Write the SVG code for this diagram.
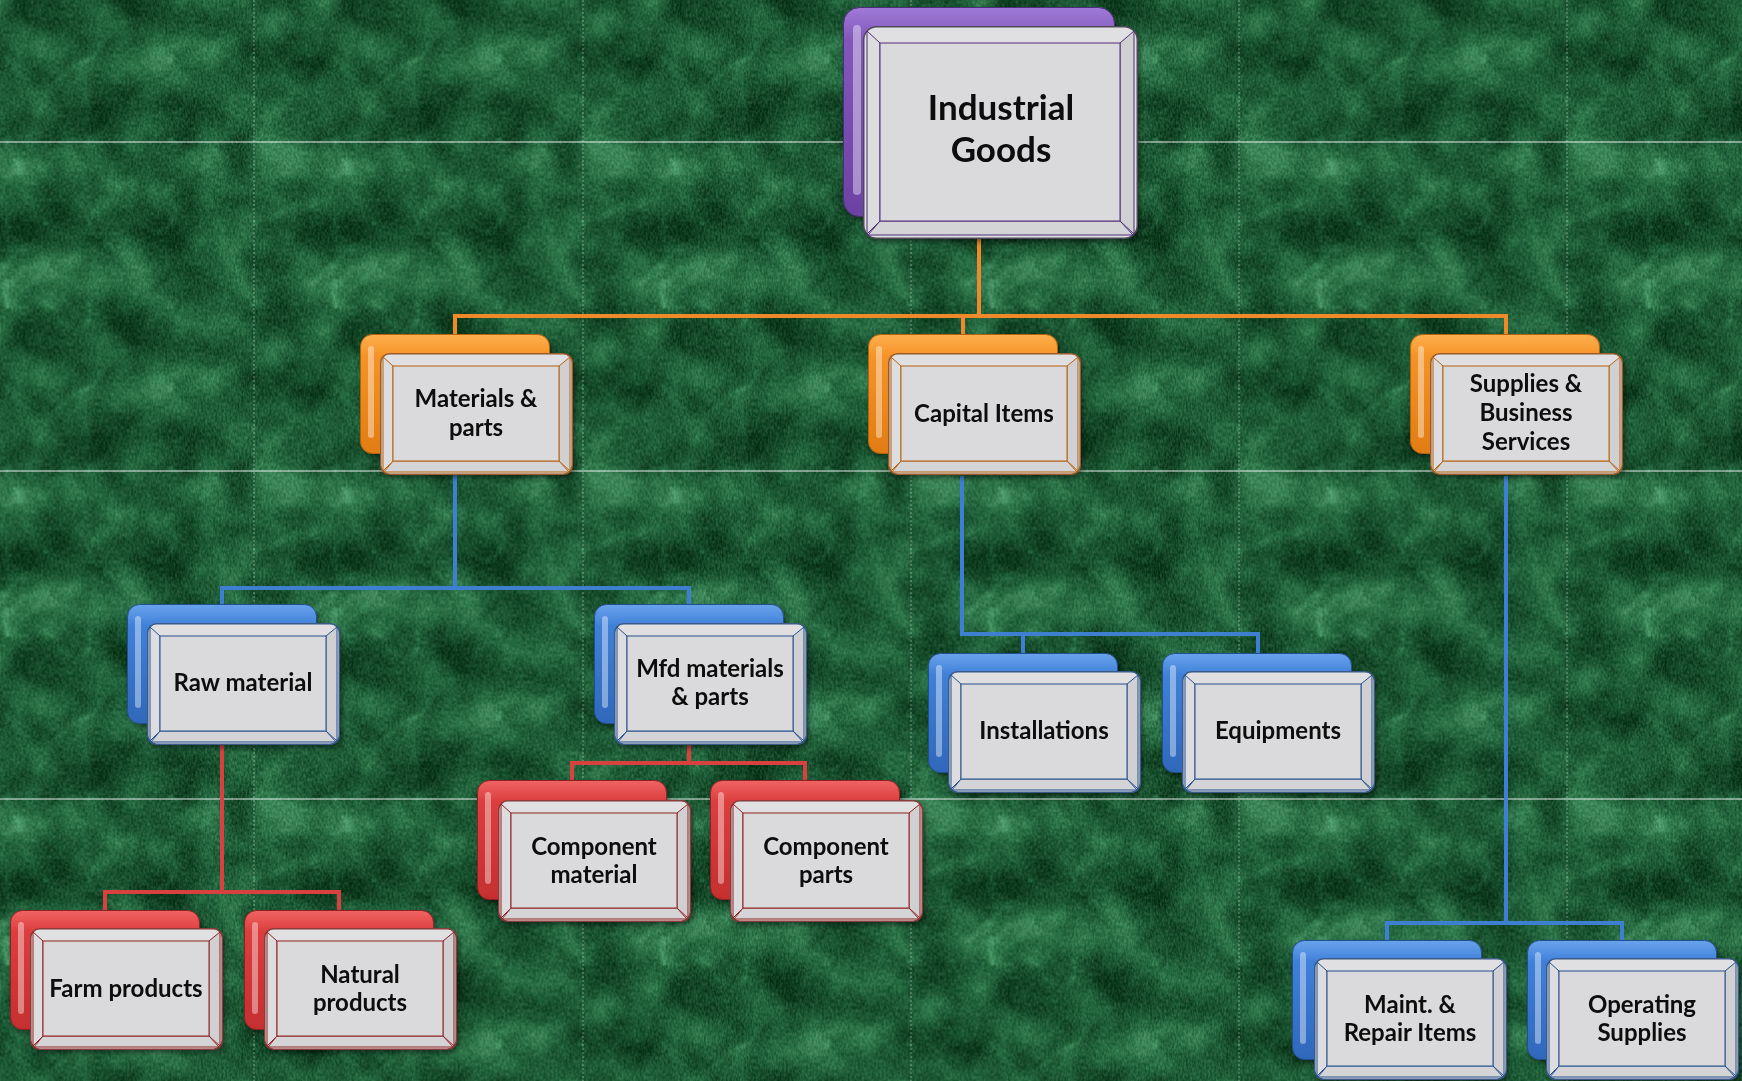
<svg xmlns="http://www.w3.org/2000/svg" width="1742" height="1081" viewBox="0 0 1742 1081">
<style>
.t{font-family:Lato,"Open Sans","Liberation Sans",sans-serif;font-weight:700;font-size:24px;text-anchor:middle;fill:#0b0b0b}
.tl{font-size:35px}
.cn{fill:none;stroke-width:4;stroke-linejoin:miter}
.co{stroke:#f0892a}
.cb{stroke:#3f7fd2}
.cr{stroke:#d8413f}
.gh{stroke:#ffffff;stroke-opacity:0.6;stroke-width:1.5}
.gv{stroke:#ffffff;stroke-opacity:0.4;stroke-width:1;stroke-dasharray:2 2}
.o{fill:url(#gO);stroke:#b5620f;color:#9a5a2c}
.b{fill:url(#gB);stroke:#24508f;color:#3a5a88}
.r{fill:url(#gR);stroke:#8f2222;color:#8a3a3a}
.p{fill:url(#gP);stroke:#4e2d7a;color:#4f4a58}
.node{filter:url(#sh)}
</style>
<defs>
<filter id="marble" filterUnits="userSpaceOnUse" x="0" y="0" width="328.3" height="328.5" color-interpolation-filters="sRGB">
<feTurbulence type="fractalNoise" baseFrequency="0.018" numOctaves="5" seed="5" stitchTiles="stitch" result="f"/>
<feColorMatrix in="f" type="matrix" values="1.7 0 0 0 -0.35 1.7 0 0 0 -0.35 1.7 0 0 0 -0.35 0 0 0 0 1" result="fc"/>
<feTurbulence type="turbulence" baseFrequency="0.012" numOctaves="3" seed="9" stitchTiles="stitch" result="tv"/>
<feColorMatrix in="tv" type="matrix" values="-7 0 0 0 1 -7 0 0 0 1 -7 0 0 0 1 0 0 0 0 1" result="v"/>
<feComposite in="fc" in2="v" operator="arithmetic" k1="0" k2="0.85" k3="0.25" k4="0" result="c"/>
<feComponentTransfer in="c" result="m">
<feFuncR type="table" tableValues="0.05 0.09 0.13 0.19 0.3"/>
<feFuncG type="table" tableValues="0.22 0.3 0.38 0.47 0.6"/>
<feFuncB type="table" tableValues="0.11 0.17 0.23 0.3 0.42"/>
</feComponentTransfer>
<feTurbulence type="fractalNoise" baseFrequency="0.5 0.3" numOctaves="2" seed="3" stitchTiles="stitch" result="n"/>
<feColorMatrix in="n" type="matrix" values="1 0 0 0 0 1 0 0 0 0 1 0 0 0 0 0 0 0 0 1" result="ng"/>
<feComposite in="m" in2="ng" operator="arithmetic" k1="0" k2="1" k3="0.26" k4="-0.13"/>
</filter>
<pattern id="tile" patternUnits="userSpaceOnUse" x="-74.3" y="-186.5" width="328.3" height="328.5">
<rect width="328.3" height="328.5" fill="#245c34" filter="url(#marble)"/>
</pattern>
<filter id="sh" x="-10%" y="-10%" width="125%" height="130%">
<feDropShadow dx="2" dy="3" stdDeviation="2.5" flood-color="#000" flood-opacity="0.45"/>
</filter>
<linearGradient id="gO" x1="0" y1="0" x2="0" y2="1"><stop offset="0" stop-color="#ffb04f"/><stop offset="0.18" stop-color="#f59327"/><stop offset="1" stop-color="#e27c12"/></linearGradient>
<linearGradient id="gB" x1="0" y1="0" x2="0" y2="1"><stop offset="0" stop-color="#6aa3ec"/><stop offset="0.18" stop-color="#3f80d8"/><stop offset="1" stop-color="#2f68bb"/></linearGradient>
<linearGradient id="gR" x1="0" y1="0" x2="0" y2="1"><stop offset="0" stop-color="#f06464"/><stop offset="0.18" stop-color="#dc3d3d"/><stop offset="1" stop-color="#c52f2f"/></linearGradient>
<linearGradient id="gP" x1="0" y1="0" x2="0" y2="1"><stop offset="0" stop-color="#a07ad6"/><stop offset="0.15" stop-color="#8257bd"/><stop offset="1" stop-color="#6c42a3"/></linearGradient>
<g id="backS"><rect x="0.5" y="0.5" width="189" height="119" rx="12" stroke-width="1"/><rect x="8" y="12" width="6" height="92" rx="3" fill="#ffffff" fill-opacity="0.4" stroke="none"/></g>
<g id="backL"><rect x="0.5" y="0.5" width="271" height="209" rx="16" stroke-width="1"/><rect x="10" y="18" width="8" height="170" rx="4" fill="#ffffff" fill-opacity="0.4" stroke="none"/></g>
<g id="frontS">
<rect x="0.75" y="0.75" width="191.5" height="120.5" rx="9" fill="#e0dfe1" stroke="currentColor" stroke-width="1.5"/>
<polygon points="3,4 13,13 13,108 3,118" fill="#dddcde"/>
<polygon points="190,4 190,118 179,108 179,13" fill="#d0cfd2"/>
<polygon points="4,119 189,119 179,108 13,108" fill="#d4d3d5"/>
<rect x="13" y="13" width="166" height="95" fill="#dad9db"/>
</g>
<g id="frontL">
<rect x="0.75" y="0.75" width="273.5" height="211.5" rx="13" fill="#e0dfe1" stroke="currentColor" stroke-width="1.5"/>
<polygon points="4,5 17,17 17,195 4,208" fill="#dddcde"/>
<polygon points="271,5 271,208 257,195 257,17" fill="#d0cfd2"/>
<polygon points="5,209 270,209 257,195 17,195" fill="#d4d3d5"/>
<rect x="17" y="17" width="240" height="178" fill="#dad9db"/>
</g>
</defs>

<g id="background">
<rect width="1742" height="1081" fill="url(#tile)"/>
<line class="gh" x1="0" y1="142" x2="1742" y2="142"/>
<line class="gh" x1="0" y1="471" x2="1742" y2="471"/>
<line class="gh" x1="0" y1="799" x2="1742" y2="799"/>
<line class="gv" x1="254" y1="0" x2="254" y2="1081"/>
<line class="gv" x1="583" y1="0" x2="583" y2="1081"/>
<line class="gv" x1="911" y1="0" x2="911" y2="1081"/>
<line class="gv" x1="1239" y1="0" x2="1239" y2="1081"/>
<line class="gv" x1="1567" y1="0" x2="1567" y2="1081"/>
</g>

<g id="connectors">
<path class="cn co" d="M979 239V316"/>
<path class="cn co" d="M455 334V316H1506V334"/>
<path class="cn co" d="M963 316V334"/>
<path class="cn cb" d="M455 475V588"/>
<path class="cn cb" d="M222 604V588H689V604"/>
<path class="cn cb" d="M962 476V634H1258V653"/>
<path class="cn cb" d="M1023 634V653"/>
<path class="cn cb" d="M1506 476V923"/>
<path class="cn cb" d="M1387 940V923H1622V940"/>
<path class="cn cr" d="M222 745V892"/>
<path class="cn cr" d="M105 910V892H339V910"/>
<path class="cn cr" d="M689 745V763"/>
<path class="cn cr" d="M572 780V763H805V780"/>
</g>

<g id="node-industrial-goods" class="node">
<use href="#backL" x="843" y="7" class="p"/>
<use href="#frontL" x="863" y="26" class="p"/>
<text class="t tl" x="1001" y="120">Industrial</text>
<text class="t tl" x="1001" y="162">Goods</text>
</g>

<g id="node-materials-parts" class="node">
<use href="#backS" x="360" y="334" class="o"/>
<use href="#frontS" x="380" y="353" class="o"/>
<text class="t" x="476" y="407">Materials &amp;</text>
<text class="t" x="476" y="436">parts</text>
</g>

<g id="node-capital-items" class="node">
<use href="#backS" x="868" y="334" class="o"/>
<use href="#frontS" x="888" y="353" class="o"/>
<text class="t" x="984" y="422">Capital Items</text>
</g>

<g id="node-supplies" class="node">
<use href="#backS" x="1410" y="334" class="o"/>
<use href="#frontS" x="1430" y="353" class="o"/>
<text class="t" x="1526" y="392">Supplies &amp;</text>
<text class="t" x="1526" y="421">Business</text>
<text class="t" x="1526" y="450">Services</text>
</g>

<g id="node-raw-material" class="node">
<use href="#backS" x="127" y="604" class="b"/>
<use href="#frontS" x="147" y="623" class="b"/>
<text class="t" x="243" y="691">Raw material</text>
</g>

<g id="node-mfd" class="node">
<use href="#backS" x="594" y="604" class="b"/>
<use href="#frontS" x="614" y="623" class="b"/>
<text class="t" x="710" y="677">Mfd materials</text>
<text class="t" x="710" y="705">&amp; parts</text>
</g>

<g id="node-installations" class="node">
<use href="#backS" x="928" y="653" class="b"/>
<use href="#frontS" x="948" y="671" class="b"/>
<text class="t" x="1044" y="739">Installations</text>
</g>

<g id="node-equipments" class="node">
<use href="#backS" x="1162" y="653" class="b"/>
<use href="#frontS" x="1182" y="671" class="b"/>
<text class="t" x="1278" y="739">Equipments</text>
</g>

<g id="node-component-material" class="node">
<use href="#backS" x="477" y="780" class="r"/>
<use href="#frontS" x="498" y="800" class="r"/>
<text class="t" x="594" y="855">Component</text>
<text class="t" x="594" y="883">material</text>
</g>

<g id="node-component-parts" class="node">
<use href="#backS" x="710" y="780" class="r"/>
<use href="#frontS" x="730" y="800" class="r"/>
<text class="t" x="826" y="855">Component</text>
<text class="t" x="826" y="883">parts</text>
</g>

<g id="node-farm-products" class="node">
<use href="#backS" x="10" y="910" class="r"/>
<use href="#frontS" x="30" y="928" class="r"/>
<text class="t" x="126" y="997">Farm products</text>
</g>

<g id="node-natural-products" class="node">
<use href="#backS" x="244" y="910" class="r"/>
<use href="#frontS" x="264" y="928" class="r"/>
<text class="t" x="360" y="983">Natural</text>
<text class="t" x="360" y="1011">products</text>
</g>

<g id="node-maint-repair" class="node">
<use href="#backS" x="1292" y="940" class="b"/>
<use href="#frontS" x="1314" y="958" class="b"/>
<text class="t" x="1410" y="1013">Maint. &amp;</text>
<text class="t" x="1410" y="1041">Repair Items</text>
</g>

<g id="node-operating-supplies" class="node">
<use href="#backS" x="1527" y="940" class="b"/>
<use href="#frontS" x="1546" y="958" class="b"/>
<text class="t" x="1642" y="1013">Operating</text>
<text class="t" x="1642" y="1041">Supplies</text>
</g>
</svg>
